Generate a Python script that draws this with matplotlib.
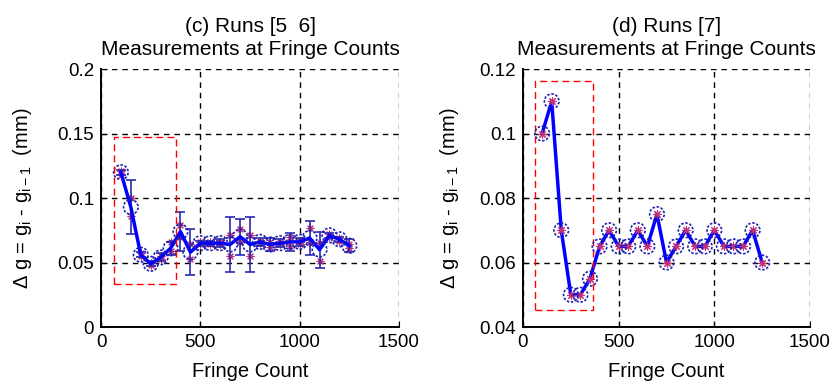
import numpy as np
import matplotlib.pyplot as plt

plt.rcParams['font.family'] = ['Liberation Sans', 'DejaVu Sans']
plt.rcParams['mathtext.fontset'] = 'custom'
plt.rcParams['mathtext.rm'] = 'Liberation Sans'

# ---- panel (c): runs 5 and 6, mean with error bars ----
fringe_c = [100, 150, 200, 250, 300, 350, 400, 450, 500, 550, 600, 650,
            700, 750, 800, 850, 900, 950, 1000, 1050, 1100, 1150, 1200, 1250]
mean_c = [0.120, 0.093, 0.056, 0.049, 0.054, 0.061, 0.074, 0.058, 0.065, 0.065, 0.065, 0.064,
          0.070, 0.064, 0.066, 0.064, 0.065, 0.066, 0.066, 0.069, 0.060, 0.071, 0.068, 0.063]
err_c = [0.002, 0.021, 0.002, 0.002, 0.003, 0.005, 0.015, 0.018, 0.002, 0.002, 0.003, 0.021,
         0.014, 0.021, 0.003, 0.005, 0.003, 0.007, 0.003, 0.013, 0.014, 0.002, 0.002, 0.005]
run5_c = [0.121, 0.100, 0.057, 0.050, 0.055, 0.066, 0.079, 0.053, 0.066, 0.066, 0.066, 0.071,
          0.076, 0.071, 0.067, 0.066, 0.066, 0.070, 0.067, 0.077, 0.051, 0.072, 0.069, 0.064]
run6_c = [0.118, 0.086, 0.055, 0.048, 0.053, 0.059, 0.070, 0.064, 0.064, 0.064, 0.064, 0.055,
          0.066, 0.055, 0.065, 0.062, 0.064, 0.063, 0.064, 0.066, 0.065, 0.070, 0.067, 0.061]
box_c = (65, 377, 0.033, 0.1475)

# ---- panel (d): run 7 ----
fringe_d = [100, 150, 200, 250, 300, 350, 400, 450, 500, 550, 600, 650,
            700, 750, 800, 850, 900, 950, 1000, 1050, 1100, 1150, 1200, 1250]
dg_d = [0.100, 0.110, 0.070, 0.050, 0.050, 0.055, 0.065, 0.070, 0.065, 0.065, 0.070, 0.065,
        0.075, 0.060, 0.065, 0.070, 0.065, 0.065, 0.070, 0.065, 0.065, 0.065, 0.070, 0.060]
box_d = (63, 368, 0.0453, 0.1163)

titles = ['(c) Runs [5  6]\nMeasurements at Fringe Counts',
          '(d) Runs [7]\nMeasurements at Fringe Counts']
ylab = r'$\Delta$ g = g$_\mathrm{i}$ - g$_\mathrm{i-1}$  (mm)'

BLUE = '#0000ff'
asterisk = (8, 2, 0)

fig = plt.figure(figsize=(8.32, 3.86), dpi=100)
axc = fig.add_axes([0.1214, 0.1528, 0.3582, 0.6684])
axd = fig.add_axes([0.6286, 0.1528, 0.3450, 0.6684])


def style(ax, ylim, yticks, yticklabels, title, ylx):
    ax.set_xlim(0, 1500)
    ax.set_ylim(*ylim)
    ax.set_xticks([0, 500, 1000, 1500])
    ax.set_xticklabels(['0', '500', '1000', '1500'])
    ax.set_yticks(yticks)
    ax.set_yticklabels(yticklabels)
    ax.grid(True, color='black', linestyle=(0, (4, 3.5)), linewidth=1.0)
    ax.set_axisbelow(True)
    for s in ['top', 'right']:
        ax.spines[s].set_visible(False)
    for s in ['left', 'bottom']:
        ax.spines[s].set_linewidth(1.4)
    ax.tick_params(direction='in', length=4, labelsize=13.5, pad=5)
    ax.set_title(title, fontsize=15, linespacing=1.25, pad=10)
    ax.set_xlabel('Fringe Count', fontsize=14.5)
    ax.xaxis.set_label_coords(0.5, -0.135)
    ax.set_ylabel(ylab, fontsize=14.5)
    ax.yaxis.set_label_coords(ylx, 0.5)


def red_box(ax, box):
    x0, x1, y0, y1 = box
    ax.plot([x0, x1, x1, x0, x0], [y0, y0, y1, y1, y0], color='red',
            linestyle=(0, (5, 3)), linewidth=1.0, zorder=5)


# panel (c)
axc.scatter(fringe_c, run5_c, marker=asterisk, s=25, color='#c0307a', linewidths=0.8, zorder=3)
axc.scatter(fringe_c, run6_c, marker=asterisk, s=25, color='#c0307a', linewidths=0.8, zorder=3)
axc.errorbar(fringe_c, mean_c, yerr=err_c, fmt='none', ecolor='#2a2ab0',
             elinewidth=1.2, capsize=3.5, capthick=1.2, zorder=4)
axc.plot(fringe_c, mean_c, color=BLUE, linewidth=2.5, zorder=4)
axc.scatter(fringe_c, mean_c, marker='o', s=110, facecolors='none', edgecolors='#2020b0',
            linewidths=1.2, linestyles=(0, (1.5, 1)), zorder=5)
red_box(axc, box_c)
style(axc, (0, 0.2), [0, 0.05, 0.1, 0.15, 0.2], ['0', '0.05', '0.1', '0.15', '0.2'],
      titles[0], -0.225)

# panel (d)
axd.plot(fringe_d, dg_d, color=BLUE, linewidth=2.5, zorder=4)
axd.scatter(fringe_d, dg_d, marker=asterisk, s=30, color='#c0307a', linewidths=0.8, zorder=5)
axd.scatter(fringe_d, dg_d, marker='o', s=110, facecolors='none', edgecolors='#2020b0',
            linewidths=1.2, linestyles=(0, (1.5, 1)), zorder=6)
red_box(axd, box_d)
style(axd, (0.04, 0.12), [0.04, 0.06, 0.08, 0.1, 0.12],
      ['0.04', '0.06', '0.08', '0.1', '0.12'], titles[1], -0.215)

fig.savefig('out.png', dpi=100, facecolor='white')
